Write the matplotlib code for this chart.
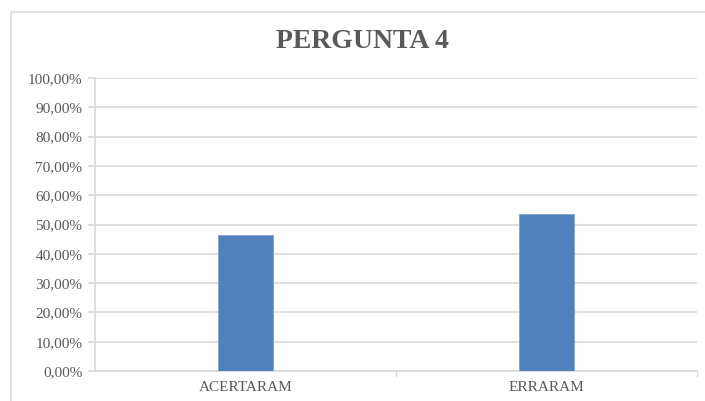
import matplotlib.pyplot as plt
from matplotlib.lines import Line2D
from matplotlib.ticker import FuncFormatter, FixedLocator

categories = ["ACERTARAM", "ERRARAM"]
values = [46.43, 53.57]
title = "PERGUNTA 4"

TEXT = "#595959"
GRID = "#d9d9d9"
BAR = "#4F81BD"
SERIF = ["Liberation Serif", "DejaVu Serif"]


def pct(v, pos):
    return f"{v:.2f}".replace(".", ",") + "%"


fig = plt.figure(figsize=(7.05, 4.01), dpi=100)
ax = fig.add_axes([95 / 705, 30 / 401, 602 / 705, 293 / 401])

x = list(range(len(categories)))
ax.bar(x, values, width=0.183, color=BAR, edgecolor="#7fa3d1", linewidth=0.6, zorder=3)

ax.set_xlim(-0.5, len(categories) - 0.5)
ax.set_ylim(0, 100)
ax.set_yticks(range(0, 101, 10))
ax.yaxis.set_major_formatter(FuncFormatter(pct))
ax.grid(axis="y", color=GRID, linewidth=1.2, zorder=0)

ax.set_xticks(x)
ax.set_xticklabels(categories)
ax.xaxis.set_minor_locator(FixedLocator([i + 0.5 for i in range(len(categories))]))
ax.tick_params(axis="x", which="major", length=0, pad=7, labelsize=11, labelcolor=TEXT)
ax.tick_params(axis="x", which="minor", length=4, color=GRID, width=1)
ax.tick_params(axis="y", length=5, color=GRID, width=1.2, labelsize=11, labelcolor=TEXT, pad=4)
for lab in ax.get_xticklabels() + ax.get_yticklabels():
    lab.set_family(SERIF)

for side in ["top", "right"]:
    ax.spines[side].set_visible(False)
for side in ["left", "bottom"]:
    ax.spines[side].set_color(GRID)
    ax.spines[side].set_linewidth(1.2)

fig.text(362 / 705, 1 - 42 / 401, title, ha="center", va="center", fontsize=20,
         fontweight="bold", color=TEXT, family=SERIF)

# chart border
fig.add_artist(Line2D([11 / 705, 11 / 705, 1.0], [0.0, 1 - 12 / 401, 1 - 12 / 401],
                      transform=fig.transFigure, color=GRID, linewidth=1.2))

fig.savefig("out.png", dpi=100)
